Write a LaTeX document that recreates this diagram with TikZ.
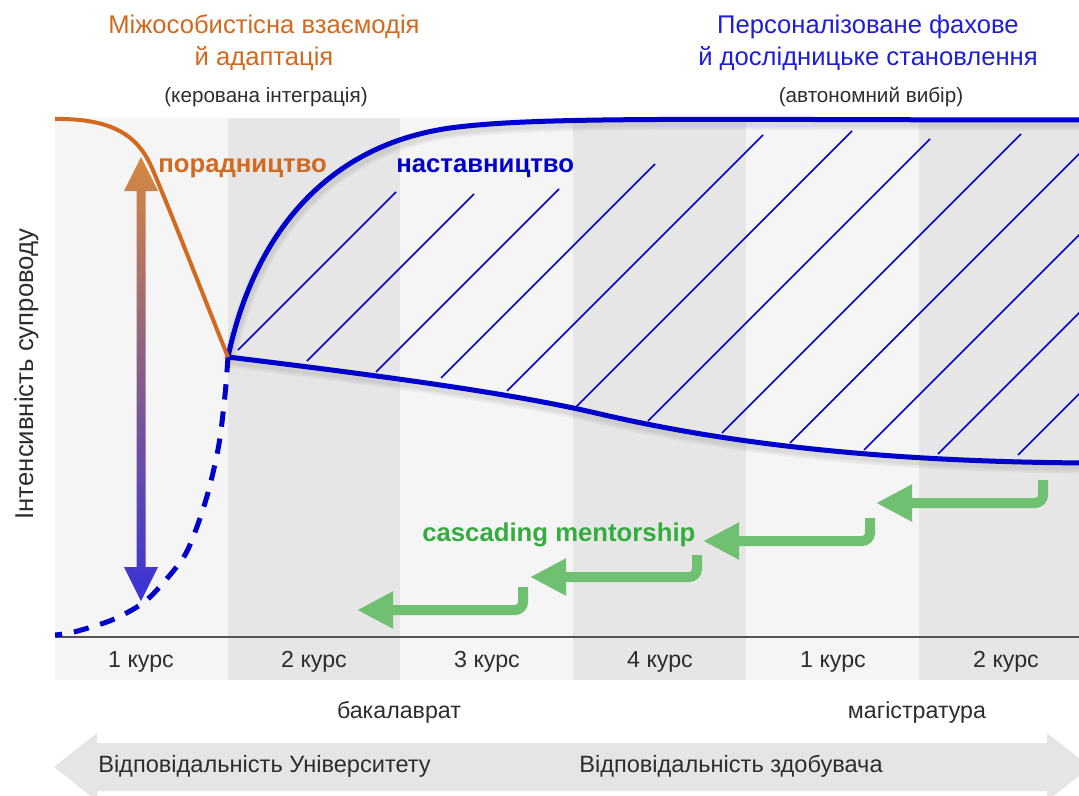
\documentclass[tikz,border=0pt]{standalone}
\usepackage{fontspec}
\setmainfont{Liberation Sans}
\usetikzlibrary{arrows.meta}
\definecolor{bgl}{RGB}{245,245,245}
\definecolor{bgd}{RGB}{230,230,230}
\definecolor{bigarr}{RGB}{229,229,229}
\definecolor{cblue}{RGB}{0,0,204}
\definecolor{tblue}{RGB}{30,30,215}
\definecolor{corange}{RGB}{210,105,30}
\definecolor{tgray}{RGB}{45,45,45}
\definecolor{garrow}{RGB}{112,192,114}
\definecolor{gtext}{RGB}{52,172,62}
\definecolor{axisgray}{RGB}{85,85,85}
\definecolor{arrtop}{RGB}{214,136,64}
\definecolor{arrbot}{RGB}{55,50,215}
\begin{document}
\begin{tikzpicture}[x=0.75pt,y=-0.75pt,
  titletext/.style={font=\fontsize{19.2}{23}\selectfont, anchor=base, inner sep=0pt},
  subtext/.style={font=\fontsize{15.5}{18}\selectfont, text=tgray, anchor=base, inner sep=0pt},
  boldlabel/.style={font=\fontsize{19.3}{23}\selectfont\bfseries, anchor=base west, inner sep=0pt},
  coursetext/.style={font=\fontsize{17.4}{21}\selectfont, text=tgray, anchor=base, inner sep=0pt},
  resptext/.style={font=\fontsize{17.7}{21}\selectfont, text=tgray, anchor=base west, inner sep=0pt},
  bluecurve/.style={draw=cblue, line width=3.75pt, line join=round},
  hatchline/.style={draw=cblue, line width=1.1pt},
  greenarrow/.style={draw=garrow, line width=7.5pt, rounded corners=6pt,
    -{Triangle[length=27pt,width=26pt]}},
  uppercurve/.style={insert path={(228,357) .. controls (255,230) and (330,145) .. (450,128)
   .. controls (540,116) and (700,120) .. (1092,120)}},
  lowercurve/.style={insert path={(228,357) .. controls (400,378) and (520,395) .. (600,414)
   .. controls (700,437) and (850,462) .. (1092,463)}},
]
\useasboundingbox (0,0) rectangle (1079,796);
\clip (0,0) rectangle (1079,796);
\fill[white] (0,0) rectangle (1079,796);

% columns
\fill[bgl] (55,118) rectangle (228,680);
\fill[bgd] (228,118) rectangle (400,680);
\fill[bgl] (400,118) rectangle (573,680);
\fill[bgd] (573,118) rectangle (746,680);
\fill[bgl] (746,118) rectangle (919,680);
\fill[bgd] (919,118) rectangle (1092,680);

% axis
\coordinate (axl) at (55,637);
\coordinate (axr) at (1092,637);
\draw[axisgray, line width=2pt] (axl) -- (axr);

% hatch lines
\foreach \xa/\ya/\xb/\yb in {238/350/396/192, 307/361/474/194, 376/372/559/189,
  441/378/655/164, 507/391/763/135, 575/408/852/131, 648/421/930/139,
  722/433/1021/134, 790/443/1099/134, 864/450/1180/134, 938/454/1260/132,
  1018/455/1340/133}
  \draw[hatchline] (\xa,\ya) -- (\xb,\yb);

% meeting point
\coordinate (meet) at (228,357);

% soft shadows of blue curves
\begin{scope}[shift={(1,4)}, line join=round]
\foreach \w in {10,7.5,5}{
  \draw[black, opacity=0.035, line width=\w pt, uppercurve];
  \draw[black, opacity=0.035, line width=\w pt, lowercurve];
}
\end{scope}

% blue curves
\draw[bluecurve, uppercurve];
\draw[bluecurve, lowercurve];
\draw[bluecurve, dash pattern=on 11.5pt off 9pt, line cap=butt] plot[smooth] coordinates {(228,357) (225,395) (219,444) (209,489)
  (198,524) (185,555) (164,582) (143,603) (112,620) (74,632) (55,635)};

% orange curve
\coordinate (ostart) at (55,119);
\draw[corange, line width=3pt, line join=round] (ostart) .. controls (125,118) and (143,145) .. (155,175)
   .. controls (180,235) and (205,300) .. (meet);

% gradient double arrow
\shade[top color=arrtop, bottom color=arrbot]
  (141,157) -- (158,191) -- (145.5,191) -- (145.5,567) -- (158,567) -- (141,601)
  -- (124,567) -- (136.5,567) -- (136.5,191) -- (124,191) -- cycle;

% green cascading arrows
\coordinate (g1a) at (1043,480); \coordinate (g1b) at (1043,503); \coordinate (g1c) at (876,503);
\coordinate (g2a) at (870,518);  \coordinate (g2b) at (870,541);  \coordinate (g2c) at (703,541);
\coordinate (g3a) at (697,555);  \coordinate (g3b) at (697,577);  \coordinate (g3c) at (530,577);
\coordinate (g4a) at (523,587);  \coordinate (g4b) at (523,610);  \coordinate (g4c) at (357,610);
\draw[greenarrow] (g1a) -- (g1b) -- (g1c);
\draw[greenarrow] (g2a) -- (g2b) -- (g2c);
\draw[greenarrow] (g3a) -- (g3b) -- (g3c);
\draw[greenarrow] (g4a) -- (g4b) -- (g4c);

% labels in plot
\node[boldlabel, text=corange] (porad) at (158,172) {порадництво};
\node[boldlabel, text=cblue] (nast) at (396,172) {наставництво};
\node[boldlabel, text=gtext] (casc) at (422,541) {cascading mentorship};

% titles
\node[titletext, text=corange] (t1a) at (264,33) {Міжособистісна взаємодія};
\node[titletext, text=corange] (t1b) at (264,65) {й адаптація};
\node[subtext] (s1) at (266,102) {(керована інтеграція)};
\node[titletext, text=tblue] (t2a) at (868,33) {Персоналізоване фахове};
\node[titletext, text=tblue] (t2b) at (868,65) {й дослідницьке становлення};
\node[subtext] (s2) at (871,102) {(автономний вибір)};

% y axis label
\node[font=\fontsize{19.3}{23}\selectfont, text=tgray, rotate=90, anchor=base, inner sep=0pt] (ylab) at (33,374) {Інтенсивність супроводу};

% course labels
\node[coursetext] (c1) at (141,667) {1 курс};
\node[coursetext] (c2) at (314,667) {2 курс};
\node[coursetext] (c3) at (487,667) {3 курс};
\node[coursetext] (c4) at (660,667) {4 курс};
\node[coursetext] (c5) at (833,667) {1 курс};
\node[coursetext] (c6) at (1006,667) {2 курс};
\node[coursetext] (bak) at (399,718) {бакалаврат};
\node[coursetext] (mag) at (917,718) {магістратура};

% bottom double arrow
\fill[bigarr] (54,767) -- (97,733) -- (97,743) -- (1047,743) -- (1047,733) -- (1090,767)
  -- (1047,801) -- (1047,791) -- (97,791) -- (97,801) -- cycle;
\node[resptext] (ru) at (98,772) {Відповідальність Університету};
\node[resptext] (rz) at (579,772) {Відповідальність здобувача};
\end{tikzpicture}
\end{document}
